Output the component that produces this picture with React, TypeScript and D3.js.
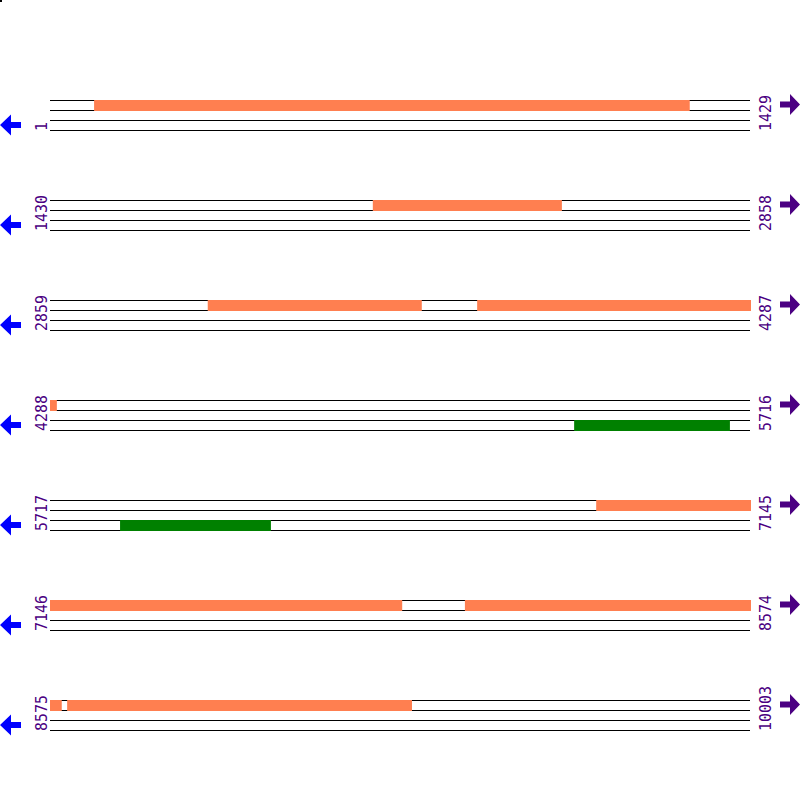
import React from "react";
import * as d3 from "d3";

const ROW_STARTS = [1, 1430, 2859, 4288, 5717, 7146, 8575];
const ROW_LEN = 1429;
const FWD_FEATURES = [
  { start: 91, end: 1307 },
  { start: 2089, end: 2475 },
  { start: 3181, end: 3618 },
  { start: 3731, end: 4302 },
  { start: 6832, end: 7865 },
  { start: 7993, end: 8599 },
  { start: 8610, end: 9314 },
];
const REV_FEATURES = [
  { start: 5358, end: 5676 },
  { start: 5860, end: 6168 },
];

const LEFT = 50;
const RIGHT = 750;
const TOP = 100;
const ROW_STEP = 100;
const LABEL_COLOR = "#4B0082";

export default function App() {
  const rowY = d3.scaleLinear().domain([0, 1]).range([TOP, TOP + ROW_STEP]);
  return (
    <svg
      width={800}
      height={800}
      style={{ position: "absolute", left: 0, top: 0, background: "#fff" }}
    >
      <rect x={0} y={0} width={2} height={2} fill="#000" />
      {ROW_STARTS.map((rs, i) => {
        const y0 = rowY(i);
        const x = d3.scaleLinear().domain([rs, rs + ROW_LEN]).range([LEFT, RIGHT]).clamp(true);
        const rowEnd = rs + ROW_LEN;
        const fwd = FWD_FEATURES.filter((f) => f.end > rs && f.start < rowEnd);
        const rev = REV_FEATURES.filter((f) => f.end > rs && f.start < rowEnd);
        const w = (f: { start: number; end: number }) =>
          x(f.end) - x(f.start) + (f.end >= rowEnd ? 1 : 0);
        return (
          <g key={i}>
            {[0, 10, 20, 30].map((dy) => (
              <line
                key={dy}
                x1={LEFT}
                x2={RIGHT}
                y1={y0 + dy + 0.5}
                y2={y0 + dy + 0.5}
                stroke="#000"
                strokeWidth={1}
              />
            ))}
            {fwd.map((f, j) => (
              <rect
                key={"f" + j}
                x={x(f.start)}
                y={y0}
                width={w(f)}
                height={11}
                fill="#FF7F50"
              />
            ))}
            {rev.map((f, j) => (
              <rect
                key={"r" + j}
                x={x(f.start)}
                y={y0 + 20}
                width={w(f)}
                height={11}
                fill="#008000"
              />
            ))}
            <text
              transform={`translate(46.5,${y0 + 31}) rotate(-90)`}
              fontFamily="DejaVu Sans Mono"
              fontSize={15}
              fill={LABEL_COLOR}
            >
              {rs}
            </text>
            <text
              transform={`translate(770.5,${y0 + 31}) rotate(-90)`}
              fontFamily="DejaVu Sans Mono"
              fontSize={15}
              fill={LABEL_COLOR}
            >
              {rs + ROW_LEN - 1}
            </text>
            <path
              d={`M0,${y0 + 25} L11,${y0 + 14.5} L11,${y0 + 22} L21,${y0 + 22} L21,${y0 + 28} L11,${y0 + 28} L11,${y0 + 35.5} Z`}
              fill="#0000FF"
            />
            <path
              d={`M800,${y0 + 4.5} L790,${y0 - 6} L790,${y0 + 1.5} L780,${y0 + 1.5} L780,${y0 + 7.5} L790,${y0 + 7.5} L790,${y0 + 15} Z`}
              fill={LABEL_COLOR}
            />
          </g>
        );
      })}
    </svg>
  );
}
